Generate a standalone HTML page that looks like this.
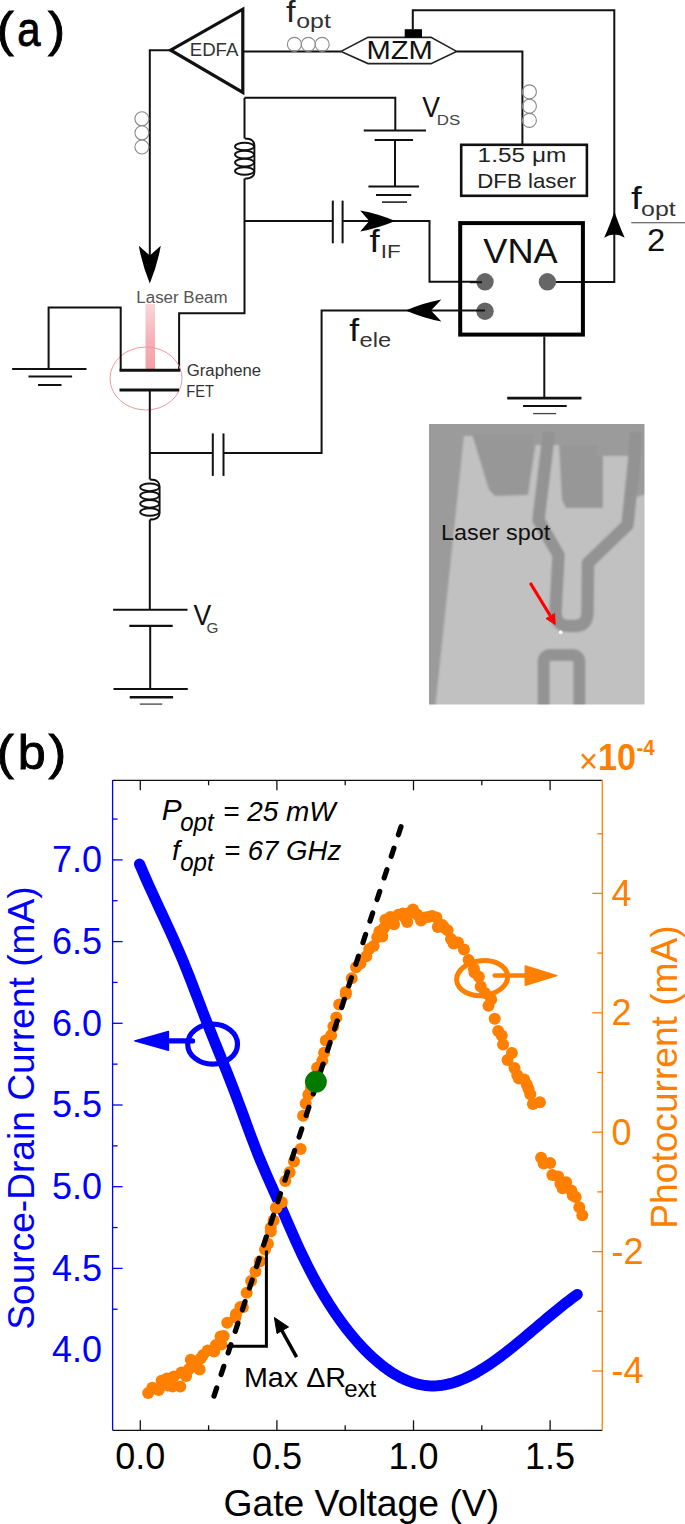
<!DOCTYPE html><html><head><meta charset="utf-8"><style>html,body{margin:0;padding:0;background:#fff;}svg{display:block;}text{font-family:"Liberation Sans",sans-serif;}</style></head><body>
<svg width="685" height="1524" viewBox="0 0 685 1524">
<rect width="685" height="1524" fill="#fff"/>
<text x="-3.23" y="46.10" font-size="47.6" fill="#000" textLength="17.08" lengthAdjust="spacingAndGlyphs" stroke="#000" stroke-width="0.9">(</text>
<text x="17.19" y="46.40" font-size="49" fill="#000" textLength="23.28" lengthAdjust="spacingAndGlyphs" stroke="#000" stroke-width="0.9">a</text>
<text x="47.90" y="46.10" font-size="47.6" fill="#000" textLength="17.08" lengthAdjust="spacingAndGlyphs" stroke="#000" stroke-width="0.9">)</text>
<polygon points="170.7,50.2 242.8,9.2 242.8,92.4" fill="none" stroke="#111" stroke-width="3.2" stroke-linejoin="miter"/>
<text x="189.70" y="56.30" font-size="18.7" fill="#333" textLength="48.71" lengthAdjust="spacingAndGlyphs" >EDFA</text>
<polyline points="171,50.2 149.8,50.2 149.8,256" fill="none" stroke="#111" stroke-width="2" stroke-linejoin="miter" />
<path d="M149.8,283.4 Q142.1,264.6 138.8,245.8 L149.8,255.4 L160.8,245.8 Q157.5,264.6 149.8,283.4 Z" fill="#000"/>
<circle cx="141.9" cy="118.8" r="7" fill="none" stroke="#8a8a8a" stroke-width="1.1"/>
<circle cx="141.9" cy="132.8" r="7" fill="none" stroke="#8a8a8a" stroke-width="1.1"/>
<circle cx="141.9" cy="147.0" r="7" fill="none" stroke="#8a8a8a" stroke-width="1.1"/>
<line x1="244" y1="51.4" x2="341" y2="51.4" stroke="#111" stroke-width="2" />
<circle cx="294.4" cy="44.4" r="7" fill="none" stroke="#8a8a8a" stroke-width="1.1"/>
<circle cx="308.3" cy="44.4" r="7" fill="none" stroke="#8a8a8a" stroke-width="1.1"/>
<circle cx="322.2" cy="44.4" r="7" fill="none" stroke="#8a8a8a" stroke-width="1.1"/>
<text x="286.10" y="21.50" font-size="29.5" fill="#222" textLength="9.57" lengthAdjust="spacingAndGlyphs" >f</text>
<text x="296.32" y="28.20" font-size="21" fill="#333" textLength="34.52" lengthAdjust="spacingAndGlyphs" >opt</text>
<polygon points="341,51.4 368,37.4 431,37.4 456.6,51.4 431,63.6 368,63.6" fill="none" stroke="#222" stroke-width="1.6"/>
<text x="366.53" y="59.40" font-size="25.7" fill="#111" textLength="66.37" lengthAdjust="spacingAndGlyphs" >MZM</text>
<rect x="404.7" y="29.2" width="17.3" height="8.4" fill="#000"/>
<polyline points="412.8,29.5 412.8,10.2 614.3,10.2 614.3,282 548,282" fill="none" stroke="#111" stroke-width="2" stroke-linejoin="miter" />
<path d="M614.4,211.2 Q611,222 604.2,237.8 Q614.4,231 624.7,237.8 Q617.8,222 614.4,211.2 Z" fill="#000"/>
<polyline points="456.6,51.4 522.4,51.4 522.4,144" fill="none" stroke="#111" stroke-width="2" stroke-linejoin="miter" />
<circle cx="529.4" cy="91.9" r="7" fill="none" stroke="#8a8a8a" stroke-width="1.1"/>
<circle cx="529.4" cy="106.2" r="7" fill="none" stroke="#8a8a8a" stroke-width="1.1"/>
<circle cx="529.4" cy="120.4" r="7" fill="none" stroke="#8a8a8a" stroke-width="1.1"/>
<rect x="461.2" y="144.8" width="125.7" height="51" fill="none" stroke="#111" stroke-width="2.6"/>
<text x="477.58" y="162.40" font-size="20" fill="#222" textLength="88.74" lengthAdjust="spacingAndGlyphs" >1.55 μm</text>
<text x="477.30" y="188.20" font-size="20.2" fill="#222" textLength="98.93" lengthAdjust="spacingAndGlyphs" >DFB laser</text>
<text x="630.90" y="208.90" font-size="30.5" fill="#111" textLength="10.75" lengthAdjust="spacingAndGlyphs" >f</text>
<text x="641.11" y="215.60" font-size="21" fill="#333" textLength="34.63" lengthAdjust="spacingAndGlyphs" >opt</text>
<line x1="631.3" y1="222.8" x2="685" y2="222.8" stroke="#444" stroke-width="1.1" />
<text x="646.93" y="251.30" font-size="30.5" fill="#111" textLength="18.21" lengthAdjust="spacingAndGlyphs" >2</text>
<polyline points="244.5,97.8 395.3,97.8 395.3,130.5" fill="none" stroke="#111" stroke-width="2" stroke-linejoin="miter" />
<line x1="363.7" y1="130.5" x2="426" y2="130.5" stroke="#111" stroke-width="2" />
<line x1="374.6" y1="140" x2="413" y2="140" stroke="#111" stroke-width="2" />
<line x1="395" y1="140" x2="395" y2="186.5" stroke="#111" stroke-width="2" />
<line x1="368.4" y1="186.5" x2="419" y2="186.5" stroke="#111" stroke-width="2" />
<line x1="376" y1="194.9" x2="411.3" y2="194.9" stroke="#111" stroke-width="2" />
<line x1="382" y1="202.1" x2="407" y2="202.1" stroke="#222" stroke-width="1.6" />
<text x="422.30" y="117.40" font-size="29.7" fill="#111" textLength="17.73" lengthAdjust="spacingAndGlyphs" >V</text>
<text x="436.74" y="124.50" font-size="14.6" fill="#444" textLength="23.48" lengthAdjust="spacingAndGlyphs" >DS</text>
<line x1="244.5" y1="97.8" x2="244.5" y2="138.5" stroke="#111" stroke-width="2" />
<path d="M244.8,138.5 C251.8,138.5 254.8,141.5 254.4,146.5 L254.4,171.0 C254.8,175.6 251.8,178.6 244.8,178.6" fill="none" stroke="#111" stroke-width="1.9"/>
<ellipse cx="244.5" cy="146.5" rx="9.5" ry="3.8" fill="none" stroke="#111" stroke-width="1.9"/>
<ellipse cx="244.5" cy="154.6" rx="9.5" ry="3.8" fill="none" stroke="#111" stroke-width="1.9"/>
<ellipse cx="244.5" cy="162.6" rx="9.5" ry="3.8" fill="none" stroke="#111" stroke-width="1.9"/>
<ellipse cx="244.5" cy="171.0" rx="9.5" ry="3.8" fill="none" stroke="#111" stroke-width="1.9"/>
<polyline points="244.5,178.6 244.5,313.2 179.1,313.2 179.1,370.2" fill="none" stroke="#111" stroke-width="2" stroke-linejoin="miter" />
<line x1="244.5" y1="221" x2="332.8" y2="221" stroke="#111" stroke-width="2" />
<line x1="332.8" y1="200.6" x2="332.8" y2="243.3" stroke="#111" stroke-width="2" />
<line x1="342.6" y1="200.6" x2="342.6" y2="243.3" stroke="#111" stroke-width="2" />
<polyline points="342.6,221 429.5,221 429.5,281.8 485,281.8" fill="none" stroke="#111" stroke-width="2" stroke-linejoin="miter" />
<path d="M395.2,221 Q377.7,228.4 360.2,231.5 L369.2,221.0 L360.2,210.5 Q377.7,213.6 395.2,221 Z" fill="#000"/>
<text x="369.60" y="252.40" font-size="30.5" fill="#111" textLength="10.18" lengthAdjust="spacingAndGlyphs" >f</text>
<text x="380.72" y="257.90" font-size="19" fill="#333" textLength="19.95" lengthAdjust="spacingAndGlyphs" >IF</text>
<rect x="460.2" y="223.1" width="122.7" height="111.5" fill="none" stroke="#000" stroke-width="4"/>
<text x="483.30" y="262.50" font-size="35" fill="#111" textLength="74.37" lengthAdjust="spacingAndGlyphs" >VNA</text>
<circle cx="485" cy="281.8" r="8.7" fill="#666"/>
<circle cx="547.4" cy="281.8" r="8.7" fill="#666"/>
<circle cx="485" cy="311.2" r="8.7" fill="#666"/>
<line x1="470" y1="282.2" x2="482" y2="282.2" stroke="#111" stroke-width="2" />
<polyline points="485,310.5 321.6,310.5 321.6,453.1 223.5,453.1" fill="none" stroke="#111" stroke-width="2" stroke-linejoin="miter" />
<path d="M405.7,310.5 Q423.5,302.8 441.4,299.5 L430.9,310.5 L441.4,321.5 Q423.5,318.2 405.7,310.5 Z" fill="#000"/>
<text x="349.20" y="340.70" font-size="30.5" fill="#111" textLength="9.9" lengthAdjust="spacingAndGlyphs" >f</text>
<text x="359.47" y="346.80" font-size="21" fill="#333" textLength="31.59" lengthAdjust="spacingAndGlyphs" >ele</text>
<line x1="212.8" y1="433.4" x2="212.8" y2="475.9" stroke="#111" stroke-width="2" />
<line x1="223.5" y1="433.4" x2="223.5" y2="475.9" stroke="#111" stroke-width="2" />
<line x1="212.8" y1="453.1" x2="149.8" y2="453.1" stroke="#111" stroke-width="2" />
<line x1="544.3" y1="336.6" x2="544.3" y2="398.1" stroke="#111" stroke-width="2" />
<line x1="507.2" y1="398.1" x2="581.5" y2="398.1" stroke="#111" stroke-width="2.6" />
<line x1="523" y1="405.9" x2="566.7" y2="405.9" stroke="#111" stroke-width="2" />
<line x1="533.1" y1="413.6" x2="556.2" y2="413.6" stroke="#444" stroke-width="1.3" />
<defs><linearGradient id="beam" x1="0" y1="0" x2="0" y2="1"><stop offset="0" stop-color="#f6b3b8" stop-opacity="0.55"/><stop offset="0.5" stop-color="#f4a0a6" stop-opacity="0.8"/><stop offset="1" stop-color="#f2939a" stop-opacity="0.9"/></linearGradient></defs>
<rect x="145.5" y="304" width="9.5" height="66" fill="url(#beam)"/>
<text x="136.34" y="302.70" font-size="16" fill="#555" textLength="91.24" lengthAdjust="spacingAndGlyphs" >Laser Beam</text>
<ellipse cx="146" cy="378.5" rx="36" ry="31.5" fill="none" stroke="#ef9aa0" stroke-width="1"/>
<polyline points="48.6,369 48.6,307.6 120.7,307.6 120.7,370.2" fill="none" stroke="#111" stroke-width="2" stroke-linejoin="miter" />
<line x1="119.5" y1="370.2" x2="180.3" y2="370.2" stroke="#111" stroke-width="3" />
<line x1="119.5" y1="390" x2="179.1" y2="390" stroke="#111" stroke-width="3" />
<line x1="12.1" y1="369" x2="86.5" y2="369" stroke="#111" stroke-width="2" />
<line x1="28.5" y1="376.6" x2="72.1" y2="376.6" stroke="#111" stroke-width="2" />
<line x1="38" y1="385" x2="61.5" y2="385" stroke="#111" stroke-width="2" />
<text x="186.80" y="376.30" font-size="15.6" fill="#333" textLength="74.28" lengthAdjust="spacingAndGlyphs" >Graphene</text>
<text x="186.28" y="396.50" font-size="16" fill="#333" textLength="27.72" lengthAdjust="spacingAndGlyphs" >FET</text>
<line x1="149.8" y1="390" x2="149.8" y2="479.5" stroke="#111" stroke-width="2" />
<path d="M150,479.5 C157,479.5 160,482.5 159.6,487.3 L159.6,512.0 C160,516.5 157,519.5 150,519.5" fill="none" stroke="#111" stroke-width="1.9"/>
<ellipse cx="149.7" cy="487.3" rx="9.5" ry="3.8" fill="none" stroke="#111" stroke-width="1.9"/>
<ellipse cx="149.7" cy="495.6" rx="9.5" ry="3.8" fill="none" stroke="#111" stroke-width="1.9"/>
<ellipse cx="149.7" cy="503.8" rx="9.5" ry="3.8" fill="none" stroke="#111" stroke-width="1.9"/>
<ellipse cx="149.7" cy="512.0" rx="9.5" ry="3.8" fill="none" stroke="#111" stroke-width="1.9"/>
<line x1="149.8" y1="519.5" x2="149.8" y2="609.5" stroke="#111" stroke-width="2" />
<line x1="113.1" y1="609.7" x2="187.5" y2="609.7" stroke="#111" stroke-width="1.9" />
<line x1="129.3" y1="625.9" x2="172.7" y2="625.9" stroke="#111" stroke-width="2.1" />
<line x1="150.2" y1="625.9" x2="150.2" y2="689" stroke="#111" stroke-width="2" />
<line x1="113.5" y1="689" x2="187.8" y2="689" stroke="#111" stroke-width="2" />
<line x1="129.7" y1="697.2" x2="173.1" y2="697.2" stroke="#111" stroke-width="2.5" />
<line x1="139.8" y1="704.1" x2="162.2" y2="704.1" stroke="#444" stroke-width="1.3" />
<text x="193.50" y="624.60" font-size="29.7" fill="#111" textLength="17.73" lengthAdjust="spacingAndGlyphs" >V</text>
<text x="206.60" y="632.50" font-size="14.8" fill="#444" textLength="11.93" lengthAdjust="spacingAndGlyphs" >G</text>
<defs><filter id="soft" x="0" y="0" width="1" height="1"><feGaussianBlur stdDeviation="1.1"/></filter><clipPath id="pc"><rect x="429" y="424" width="215.5" height="280.5"/></clipPath></defs>
<g clip-path="url(#pc)"><g filter="url(#soft)">
<rect x="425" y="420" width="224" height="290" fill="#c1c1c1"/>
<polygon points="420,420 464,420 464,436 435,710 420,710" fill="#9b9b9b"/>
<rect x="420" y="420" width="230" height="16" fill="#9b9b9b"/>
<polygon points="472,434 537,434 528,495 495,496 489,490" fill="#979797"/>
<polygon points="559,444 603,444 603,508 566,508 562,500" fill="#979797"/>
<rect x="533" y="430" width="120" height="15" fill="#9b9b9b"/><rect x="598" y="430" width="50" height="26" fill="#9b9b9b"/>
<polygon points="633,430 650,430 650,493 637,497" fill="#9b9b9b"/>
<path d="M549,432 L538.5,520 L558.5,555 L555.5,612 Q555.5,626 569,626 L575,626 Q587.5,626 587.5,612 L588,563 L627.5,525 L634,462 L636,432" fill="none" stroke="#939393" stroke-width="12.5" stroke-linejoin="round"/>
<path d="M543.6,710 L543.6,662 Q543.6,655 551,655 L572,655 Q579.3,655 579.3,662 L579.3,710" fill="none" stroke="#939393" stroke-width="12"/>
</g>
<circle cx="560.7" cy="632.4" r="1.8" fill="#fff"/>
<line x1="530.9" y1="584" x2="549.5" y2="614.5" stroke="#f00" stroke-width="3.2" stroke-linecap="round"/>
<path d="M555.2,624.5 L546,618.6 L554.6,613.6 Z" fill="#f00" stroke="#f00" stroke-width="1" stroke-linejoin="round"/>
<text x="441.00" y="540.20" font-size="22.3" fill="#111" textLength="109.13" lengthAdjust="spacingAndGlyphs" >Laser spot</text>
</g>
<text x="-3.23" y="768.80" font-size="47.6" fill="#000" textLength="17.08" lengthAdjust="spacingAndGlyphs" stroke="#000" stroke-width="0.9">(</text>
<text x="17.72" y="768.80" font-size="49" fill="#000" textLength="28.01" lengthAdjust="spacingAndGlyphs" stroke="#000" stroke-width="0.9">b</text>
<text x="48.50" y="768.80" font-size="47.6" fill="#000" textLength="17.81" lengthAdjust="spacingAndGlyphs" stroke="#000" stroke-width="0.9">)</text>
<line x1="112.6" y1="780.3" x2="602.3" y2="780.3" stroke="#111" stroke-width="1.3" />
<line x1="112.6" y1="1430.3" x2="602.3" y2="1430.3" stroke="#111" stroke-width="1.3" />
<line x1="140.3" y1="780.3" x2="140.3" y2="790.3" stroke="#111" stroke-width="1.3" />
<line x1="140.3" y1="1430.3" x2="140.3" y2="1420.3" stroke="#111" stroke-width="1.3" />
<line x1="208.60000000000002" y1="780.3" x2="208.60000000000002" y2="785.3" stroke="#111" stroke-width="1.3" />
<line x1="208.60000000000002" y1="1430.3" x2="208.60000000000002" y2="1425.3" stroke="#111" stroke-width="1.3" />
<line x1="276.9" y1="780.3" x2="276.9" y2="790.3" stroke="#111" stroke-width="1.3" />
<line x1="276.9" y1="1430.3" x2="276.9" y2="1420.3" stroke="#111" stroke-width="1.3" />
<line x1="345.2" y1="780.3" x2="345.2" y2="785.3" stroke="#111" stroke-width="1.3" />
<line x1="345.2" y1="1430.3" x2="345.2" y2="1425.3" stroke="#111" stroke-width="1.3" />
<line x1="413.5" y1="780.3" x2="413.5" y2="790.3" stroke="#111" stroke-width="1.3" />
<line x1="413.5" y1="1430.3" x2="413.5" y2="1420.3" stroke="#111" stroke-width="1.3" />
<line x1="481.8" y1="780.3" x2="481.8" y2="785.3" stroke="#111" stroke-width="1.3" />
<line x1="481.8" y1="1430.3" x2="481.8" y2="1425.3" stroke="#111" stroke-width="1.3" />
<line x1="550.0999999999999" y1="780.3" x2="550.0999999999999" y2="790.3" stroke="#111" stroke-width="1.3" />
<line x1="550.0999999999999" y1="1430.3" x2="550.0999999999999" y2="1420.3" stroke="#111" stroke-width="1.3" />
<line x1="112.6" y1="780" x2="112.6" y2="1430.3" stroke="#0000ff" stroke-width="1.3" />
<line x1="112.6" y1="819.05" x2="117.6" y2="819.05" stroke="#0000ff" stroke-width="1.3" />
<line x1="112.6" y1="859.9" x2="122.6" y2="859.9" stroke="#0000ff" stroke-width="1.3" />
<line x1="112.6" y1="900.75" x2="117.6" y2="900.75" stroke="#0000ff" stroke-width="1.3" />
<line x1="112.6" y1="941.6" x2="122.6" y2="941.6" stroke="#0000ff" stroke-width="1.3" />
<line x1="112.6" y1="982.45" x2="117.6" y2="982.45" stroke="#0000ff" stroke-width="1.3" />
<line x1="112.6" y1="1023.3" x2="122.6" y2="1023.3" stroke="#0000ff" stroke-width="1.3" />
<line x1="112.6" y1="1064.15" x2="117.6" y2="1064.15" stroke="#0000ff" stroke-width="1.3" />
<line x1="112.6" y1="1105.0" x2="122.6" y2="1105.0" stroke="#0000ff" stroke-width="1.3" />
<line x1="112.6" y1="1145.85" x2="117.6" y2="1145.85" stroke="#0000ff" stroke-width="1.3" />
<line x1="112.6" y1="1186.7" x2="122.6" y2="1186.7" stroke="#0000ff" stroke-width="1.3" />
<line x1="112.6" y1="1227.55" x2="117.6" y2="1227.55" stroke="#0000ff" stroke-width="1.3" />
<line x1="112.6" y1="1268.4" x2="122.6" y2="1268.4" stroke="#0000ff" stroke-width="1.3" />
<line x1="112.6" y1="1309.25" x2="117.6" y2="1309.25" stroke="#0000ff" stroke-width="1.3" />
<line x1="602.3" y1="780" x2="602.3" y2="1430.3" stroke="#ff7f00" stroke-width="1.3" />
<line x1="602.3" y1="1371.0" x2="592.3" y2="1371.0" stroke="#ff7f00" stroke-width="1.3" />
<line x1="602.3" y1="1311.3000000000002" x2="597.3" y2="1311.3000000000002" stroke="#ff7f00" stroke-width="1.3" />
<line x1="602.3" y1="1251.6000000000001" x2="592.3" y2="1251.6000000000001" stroke="#ff7f00" stroke-width="1.3" />
<line x1="602.3" y1="1191.9" x2="597.3" y2="1191.9" stroke="#ff7f00" stroke-width="1.3" />
<line x1="602.3" y1="1132.2" x2="592.3" y2="1132.2" stroke="#ff7f00" stroke-width="1.3" />
<line x1="602.3" y1="1072.5" x2="597.3" y2="1072.5" stroke="#ff7f00" stroke-width="1.3" />
<line x1="602.3" y1="1012.8000000000001" x2="592.3" y2="1012.8000000000001" stroke="#ff7f00" stroke-width="1.3" />
<line x1="602.3" y1="953.1" x2="597.3" y2="953.1" stroke="#ff7f00" stroke-width="1.3" />
<line x1="602.3" y1="893.4000000000001" x2="592.3" y2="893.4000000000001" stroke="#ff7f00" stroke-width="1.3" />
<line x1="602.3" y1="833.7" x2="597.3" y2="833.7" stroke="#ff7f00" stroke-width="1.3" />
<text x="102" y="872.1999999999999" font-size="36" fill="#0000ff" text-anchor="end" >7.0</text>
<text x="102" y="953.9" font-size="36" fill="#0000ff" text-anchor="end" >6.5</text>
<text x="102" y="1035.6" font-size="36" fill="#0000ff" text-anchor="end" >6.0</text>
<text x="102" y="1117.3" font-size="36" fill="#0000ff" text-anchor="end" >5.5</text>
<text x="102" y="1199.0" font-size="36" fill="#0000ff" text-anchor="end" >5.0</text>
<text x="102" y="1280.7" font-size="36" fill="#0000ff" text-anchor="end" >4.5</text>
<text x="102" y="1362.3999999999999" font-size="36" fill="#0000ff" text-anchor="end" >4.0</text>
<text x="611.5" y="905.7" font-size="36" fill="#ff7f00" >4</text>
<text x="611.5" y="1025.1000000000001" font-size="36" fill="#ff7f00" >2</text>
<text x="611.5" y="1144.5" font-size="36" fill="#ff7f00" >0</text>
<text x="611.5" y="1263.9" font-size="36" fill="#ff7f00" >-2</text>
<text x="611.5" y="1383.3" font-size="36" fill="#ff7f00" >-4</text>
<text x="140.3" y="1469" font-size="36" fill="#000" text-anchor="middle" >0.0</text>
<text x="276.9" y="1469" font-size="36" fill="#000" text-anchor="middle" >0.5</text>
<text x="413.5" y="1469" font-size="36" fill="#000" text-anchor="middle" >1.0</text>
<text x="550.0999999999999" y="1469" font-size="36" fill="#000" text-anchor="middle" >1.5</text>
<text x="223.40" y="1515.80" font-size="37.3" fill="#000" textLength="275.75" lengthAdjust="spacingAndGlyphs" >Gate Voltage (V)</text>
<text x="0" y="0" font-size="37.2" fill="#0000ff" textLength="443.29" lengthAdjust="spacingAndGlyphs" transform="translate(33.7,1329.70) rotate(-90)">Source-Drain Current (mA)</text>
<text x="0" y="0" font-size="37.2" fill="#ff7f00" textLength="303.41" lengthAdjust="spacingAndGlyphs" transform="translate(676.8,1228.70) rotate(-90)">Photocurrent (mA)</text>
<text x="578.96" y="772.60" font-size="35.8" fill="#ff7f00" textLength="19.18" lengthAdjust="spacingAndGlyphs" >×</text>
<text x="597.95" y="769.90" font-size="37" fill="#ff7f00" textLength="38.02" lengthAdjust="spacingAndGlyphs" font-weight="bold" >10</text>
<text x="636.39" y="755.00" font-size="22.5" fill="#ff7f00" textLength="18.22" lengthAdjust="spacingAndGlyphs" font-weight="bold" >-4</text>
<text x="161.70" y="820.30" font-size="29.8" fill="#000" font-style="italic" >P</text>
<text x="180.14" y="831.30" font-size="25" fill="#000" textLength="33.47" lengthAdjust="spacingAndGlyphs" font-style="italic" >opt</text>
<text x="223.12" y="821.20" font-size="28.4" fill="#000" textLength="112.62" lengthAdjust="spacingAndGlyphs" font-style="italic" >= 25 mW</text>
<text x="171.90" y="859.90" font-size="28.5" fill="#000" font-style="italic" >f</text>
<text x="180.14" y="870.90" font-size="25" fill="#000" textLength="33.47" lengthAdjust="spacingAndGlyphs" font-style="italic" >opt</text>
<text x="223.93" y="860.30" font-size="28.4" fill="#000" textLength="117.4" lengthAdjust="spacingAndGlyphs" font-style="italic" >= 67 GHz</text>
<path d="M139.50,864.03 L142.25,870.46 L145.01,876.76 L147.76,882.94 L150.51,889.03 L153.27,895.05 L156.02,901.01 L158.77,906.94 L161.53,912.86 L164.28,918.78 L167.03,924.74 L169.79,930.74 L172.54,936.82 L175.29,942.99 L178.05,949.26 L180.80,955.67 L183.56,962.24 L186.31,968.97 L189.06,975.90 L191.82,982.98 L194.57,990.17 L197.32,997.41 L200.08,1004.66 L202.83,1011.86 L205.58,1018.96 L208.34,1025.96 L211.09,1032.90 L213.84,1039.77 L216.60,1046.60 L219.35,1053.40 L222.10,1060.20 L224.86,1067.02 L227.61,1073.90 L230.36,1080.87 L233.12,1087.98 L235.87,1095.21 L238.62,1102.56 L241.38,1110.00 L244.13,1117.51 L246.88,1125.05 L249.64,1132.55 L252.39,1139.93 L255.15,1147.14 L257.90,1154.14 L260.65,1160.92 L263.41,1167.48 L266.16,1173.86 L268.91,1180.12 L271.67,1186.30 L274.42,1192.43 L277.17,1198.58 L279.93,1204.78 L282.68,1211.05 L285.43,1217.38 L288.19,1223.71 L290.94,1230.02 L293.69,1236.27 L296.45,1242.43 L299.20,1248.45 L301.95,1254.32 L304.71,1260.02 L307.46,1265.57 L310.21,1270.97 L312.97,1276.21 L315.72,1281.30 L318.47,1286.24 L321.23,1291.04 L323.98,1295.70 L326.74,1300.22 L329.49,1304.60 L332.24,1308.85 L335.00,1312.96 L337.75,1316.95 L340.50,1320.81 L343.26,1324.55 L346.01,1328.17 L348.76,1331.67 L351.52,1335.05 L354.27,1338.33 L357.02,1341.49 L359.78,1344.55 L362.53,1347.50 L365.28,1350.35 L368.04,1353.09 L370.79,1355.74 L373.54,1358.28 L376.30,1360.72 L379.05,1363.05 L381.80,1365.27 L384.56,1367.39 L387.31,1369.39 L390.06,1371.29 L392.82,1373.08 L395.57,1374.75 L398.33,1376.32 L401.08,1377.76 L403.83,1379.10 L406.59,1380.31 L409.34,1381.42 L412.09,1382.40 L414.85,1383.26 L417.60,1384.01 L420.35,1384.63 L423.11,1385.13 L425.86,1385.51 L428.61,1385.76 L431.37,1385.89 L434.12,1385.90 L436.87,1385.78 L439.63,1385.54 L442.38,1385.19 L445.13,1384.72 L447.89,1384.14 L450.64,1383.45 L453.39,1382.67 L456.15,1381.78 L458.90,1380.79 L461.65,1379.72 L464.41,1378.55 L467.16,1377.30 L469.92,1375.96 L472.67,1374.54 L475.42,1373.05 L478.18,1371.48 L480.93,1369.85 L483.68,1368.15 L486.44,1366.38 L489.19,1364.55 L491.94,1362.67 L494.70,1360.74 L497.45,1358.75 L500.20,1356.72 L502.96,1354.64 L505.71,1352.53 L508.46,1350.38 L511.22,1348.19 L513.97,1345.98 L516.72,1343.74 L519.48,1341.47 L522.23,1339.19 L524.98,1336.89 L527.74,1334.57 L530.49,1332.25 L533.24,1329.92 L536.00,1327.59 L538.75,1325.25 L541.51,1322.92 L544.26,1320.60 L547.01,1318.29 L549.77,1315.99 L552.52,1313.70 L555.27,1311.44 L558.03,1309.20 L560.78,1306.99 L563.53,1304.80 L566.29,1302.65 L569.04,1300.54 L571.79,1298.47 L574.55,1296.44 L577.30,1294.46" fill="none" stroke="#0000ff" stroke-width="11" stroke-linecap="round" stroke-linejoin="round"/>
<g fill="#ff7f00">
<circle cx="148.2" cy="1393" r="6"/>
<circle cx="152.3" cy="1387.7" r="6"/>
<circle cx="158.7" cy="1390" r="6"/>
<circle cx="161.6" cy="1380.7" r="6"/>
<circle cx="166.9" cy="1378.4" r="6"/>
<circle cx="168" cy="1385.4" r="6"/>
<circle cx="173.9" cy="1376.6" r="6"/>
<circle cx="172.7" cy="1386.6" r="6"/>
<circle cx="180.3" cy="1386.6" r="6"/>
<circle cx="181.5" cy="1372.6" r="6"/>
<circle cx="186.1" cy="1376.1" r="6"/>
<circle cx="190.8" cy="1359.7" r="6"/>
<circle cx="189" cy="1369" r="6"/>
<circle cx="199.6" cy="1369.6" r="6"/>
<circle cx="196.1" cy="1365.5" r="6"/>
<circle cx="203.1" cy="1355" r="6"/>
<circle cx="200.7" cy="1358.5" r="6"/>
<circle cx="207.7" cy="1350.4" r="6"/>
<circle cx="214.2" cy="1351.5" r="6"/>
<circle cx="215.9" cy="1345.1" r="6"/>
<circle cx="220.6" cy="1336.4" r="6"/>
<circle cx="221.5" cy="1344.5" r="6"/>
<circle cx="223.7" cy="1335.9" r="6"/>
<circle cx="227.2" cy="1322.8" r="6"/>
<circle cx="236" cy="1314" r="6"/>
<circle cx="235.5" cy="1317.5" r="6"/>
<circle cx="240.4" cy="1307" r="6"/>
<circle cx="242.8" cy="1307.3" r="6"/>
<circle cx="246.7" cy="1292.7" r="6"/>
<circle cx="251.1" cy="1281" r="6"/>
<circle cx="255.5" cy="1271.5" r="6"/>
<circle cx="259.9" cy="1261.3" r="6"/>
<circle cx="265" cy="1249.6" r="6"/>
<circle cx="267.9" cy="1243.8" r="6"/>
<circle cx="270.8" cy="1231.4" r="6"/>
<circle cx="270.7" cy="1227.8" r="6"/>
<circle cx="273.6" cy="1220.5" r="6"/>
<circle cx="275.9" cy="1208" r="6"/>
<circle cx="276.5" cy="1207.4" r="6"/>
<circle cx="281.8" cy="1202.2" r="6"/>
<circle cx="285.3" cy="1181.1" r="6"/>
<circle cx="289.6" cy="1172.3" r="6"/>
<circle cx="294" cy="1161.4" r="6"/>
<circle cx="300.6" cy="1149" r="6"/>
<circle cx="303.1" cy="1115.8" r="6"/>
<circle cx="305.7" cy="1103.6" r="6"/>
<circle cx="308.3" cy="1094.8" r="6"/>
<circle cx="311" cy="1088" r="6"/>
<circle cx="317.1" cy="1067.7" r="6"/>
<circle cx="322.3" cy="1060.7" r="6"/>
<circle cx="324.1" cy="1052.8" r="6"/>
<circle cx="325.8" cy="1040.5" r="6"/>
<circle cx="331.1" cy="1035.3" r="6"/>
<circle cx="333.4" cy="1026.4" r="6"/>
<circle cx="336.3" cy="1017.6" r="6"/>
<circle cx="339.2" cy="1004.5" r="6"/>
<circle cx="345.8" cy="994.2" r="6"/>
<circle cx="345.8" cy="992.1" r="6"/>
<circle cx="351.7" cy="978.2" r="6"/>
<circle cx="356.1" cy="967.3" r="6"/>
<circle cx="360.4" cy="963.6" r="6"/>
<circle cx="366.3" cy="956.3" r="6"/>
<circle cx="369.2" cy="949" r="6"/>
<circle cx="373.6" cy="946.1" r="6"/>
<circle cx="377.2" cy="937.3" r="6"/>
<circle cx="382.3" cy="936.6" r="6"/>
<circle cx="379.4" cy="931.5" r="6"/>
<circle cx="385.3" cy="919.8" r="6"/>
<circle cx="390.4" cy="916.9" r="6"/>
<circle cx="394" cy="924.2" r="6"/>
<circle cx="398.4" cy="914.7" r="6"/>
<circle cx="407.2" cy="922" r="6"/>
<circle cx="405" cy="917.6" r="6"/>
<circle cx="413" cy="909.6" r="6"/>
<circle cx="403" cy="913.5" r="6"/>
<circle cx="409" cy="913" r="6"/>
<circle cx="417" cy="914.5" r="6"/>
<circle cx="424.5" cy="917.5" r="6"/>
<circle cx="432" cy="916" r="6"/>
<circle cx="444" cy="927.5" r="6"/>
<circle cx="389" cy="922" r="6"/>
<circle cx="384" cy="928" r="6"/>
<circle cx="421" cy="920.5" r="6"/>
<circle cx="428.3" cy="916.9" r="6"/>
<circle cx="436.4" cy="917.6" r="6"/>
<circle cx="437.8" cy="927.1" r="6"/>
<circle cx="442.3" cy="925" r="6"/>
<circle cx="447.6" cy="930.3" r="6"/>
<circle cx="451" cy="939" r="6"/>
<circle cx="453.5" cy="943.5" r="6"/>
<circle cx="458" cy="942.6" r="6"/>
<circle cx="464" cy="949.6" r="6"/>
<circle cx="468.6" cy="960" r="6"/>
<circle cx="473.9" cy="968.8" r="6"/>
<circle cx="474.5" cy="972.4" r="6"/>
<circle cx="478.9" cy="976.8" r="6"/>
<circle cx="480.7" cy="986.4" r="6"/>
<circle cx="485" cy="993" r="6"/>
<circle cx="491.2" cy="999.6" r="6"/>
<circle cx="488.5" cy="1005.7" r="6"/>
<circle cx="494.7" cy="1018.8" r="6"/>
<circle cx="498.2" cy="1031.1" r="6"/>
<circle cx="501.7" cy="1035.5" r="6"/>
<circle cx="503.1" cy="1044.4" r="6"/>
<circle cx="507.5" cy="1060.1" r="6"/>
<circle cx="511.9" cy="1053.1" r="6"/>
<circle cx="514.5" cy="1068" r="6"/>
<circle cx="517.2" cy="1075" r="6"/>
<circle cx="518.9" cy="1078.5" r="6"/>
<circle cx="524.2" cy="1079.4" r="6"/>
<circle cx="526.8" cy="1084.7" r="6"/>
<circle cx="528.5" cy="1089" r="6"/>
<circle cx="530.3" cy="1094.3" r="6"/>
<circle cx="532.9" cy="1104" r="6"/>
<circle cx="539.9" cy="1102.2" r="6"/>
<circle cx="541.1" cy="1157.8" r="6"/>
<circle cx="543.6" cy="1163.4" r="6"/>
<circle cx="550.1" cy="1163.1" r="6"/>
<circle cx="552.3" cy="1175" r="6"/>
<circle cx="558.2" cy="1176.5" r="6"/>
<circle cx="560.4" cy="1183.8" r="6"/>
<circle cx="566.2" cy="1182.3" r="6"/>
<circle cx="562.6" cy="1188.2" r="6"/>
<circle cx="571.3" cy="1190.4" r="6"/>
<circle cx="575.7" cy="1196.9" r="6"/>
<circle cx="572.8" cy="1195.5" r="6"/>
<circle cx="579.3" cy="1207.2" r="6"/>
<circle cx="582.3" cy="1215.2" r="6"/>
</g>
<line x1="214" y1="1396.1" x2="401" y2="826.7" stroke="#000" stroke-width="5.2" stroke-linecap="round" stroke-dasharray="8.6 14.125"/>
<circle cx="315.9" cy="1081.7" r="10.9" fill="#007a00"/>
<ellipse cx="212.6" cy="1044.2" rx="24.9" ry="20.0" fill="none" stroke="#0000ff" stroke-width="5.2"/>
<line x1="192.5" y1="1040.9" x2="160" y2="1040.9" stroke="#0000ff" stroke-width="5.3" stroke-linecap="round"/>
<path d="M134.8,1040.9 L168.4,1031.5 L168.4,1050.2 Z" fill="#0000ff" stroke="#0000ff" stroke-width="1.5" stroke-linejoin="round"/>
<ellipse cx="482.2" cy="978.1" rx="25.6" ry="17.4" fill="none" stroke="#ff7f00" stroke-width="5" transform="rotate(-6 482.2 978.1)"/>
<line x1="494.7" y1="975.6" x2="530" y2="975.6" stroke="#ff7f00" stroke-width="4.5" stroke-linecap="round"/>
<path d="M556.9,975.6 L525.3,966 L525.3,985.2 Z" fill="#ff7f00" stroke="#ff7f00" stroke-width="1.5" stroke-linejoin="round"/>
<polyline points="266.4,1250.4 266.4,1346.2 226.8,1346.2" fill="none" stroke="#000" stroke-width="3" stroke-linejoin="miter" />
<line x1="296.6" y1="1357.2" x2="281" y2="1329" stroke="#000" stroke-width="3.5"/>
<path d="M274.4,1317.5 L288.5,1327 L277,1333.5 Z" fill="#000" stroke="#000" stroke-width="1" stroke-linejoin="round"/>
<text x="243.98" y="1387.20" font-size="27.1" fill="#000" textLength="102.09" lengthAdjust="spacingAndGlyphs" >Max ΔR</text>
<text x="344.28" y="1396.80" font-size="23.5" fill="#000" textLength="31.99" lengthAdjust="spacingAndGlyphs" >ext</text>
</svg></body></html>
